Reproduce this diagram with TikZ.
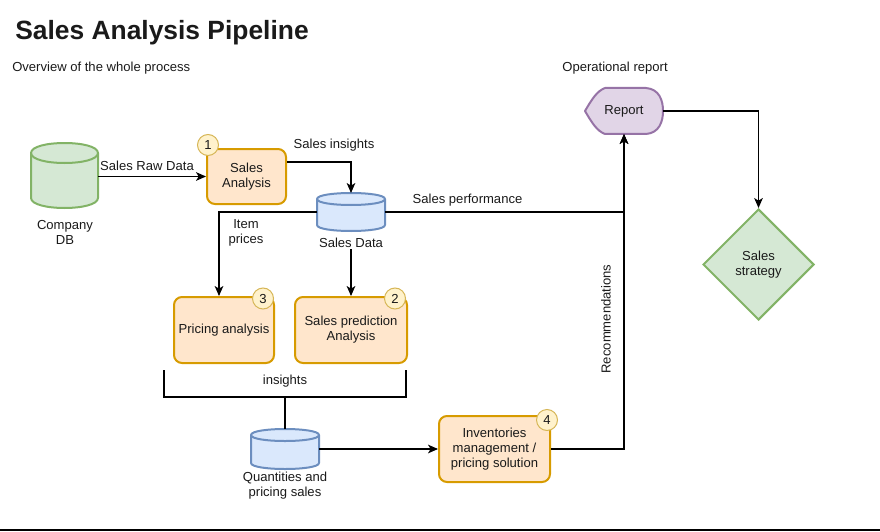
\documentclass[tikz,border=0pt]{standalone}
\usepackage{fontspec}
\setmainfont{Liberation Sans}
\usetikzlibrary{arrows.meta,shapes.geometric}
\definecolor{ofill}{HTML}{FFE6CC}
\definecolor{ostroke}{HTML}{D79B00}
\definecolor{gfill}{HTML}{D5E8D4}
\definecolor{gstroke}{HTML}{82B366}
\definecolor{bfill}{HTML}{DAE8FC}
\definecolor{bstroke}{HTML}{6C8EBF}
\definecolor{pfill}{HTML}{E1D5E7}
\definecolor{pstroke}{HTML}{9673A6}
\definecolor{yfill}{HTML}{FFF2CC}
\definecolor{ystroke}{HTML}{D6B656}
\definecolor{txt}{HTML}{1A1A1A}
% #1 left, #2 top, #3 right, #4 bottom, #5 ellipse half height, #6 fill, #7 stroke
\newcommand\mycyl[7]{%
  \draw[fill=#6, draw=#7, line width=1.5pt, line join=round]
    (#1,{#2+#5}) -- (#1,{#4-#5})
    .. controls (#1,{#4+#5/3}) and (#3,{#4+#5/3}) .. (#3,{#4-#5})
    -- (#3,{#2+#5})
    .. controls (#3,{#2-#5/3}) and (#1,{#2-#5/3}) .. (#1,{#2+#5}) -- cycle;
  \draw[draw=#7, line width=1.5pt]
    (#1,{#2+#5}) .. controls (#1,{#2+7*#5/3}) and (#3,{#2+7*#5/3}) .. (#3,{#2+#5});
}
\begin{document}
\begin{tikzpicture}[x=0.75pt,y=-0.75pt,
  every node/.style={font=\fontsize{9.8}{11.2}\selectfont, text=txt},
  proc/.style={draw=ostroke, fill=ofill, line width=1.5pt, rounded corners=6pt,
    align=center, inner sep=2pt},
  badge/.style={circle, draw=ystroke, fill=yfill, line width=0.75pt,
    minimum size=15.75pt, inner sep=0pt},
  lbl/.style={align=center, inner sep=1pt},
  arr/.style={-{Stealth[length=7.5pt,width=6.5pt,inset=2pt]}, line width=0.8pt},
  holder/.style={draw=none, inner sep=0pt, outer sep=0pt},
  bracket/.style={line width=1.5pt}
]
\useasboundingbox (0,0) rectangle (880,531);

% titles
\node[anchor=base west, font=\bfseries\fontsize{19.8}{24}\selectfont, inner sep=0pt] (title) at (15,40) {Sales Analysis Pipeline};
\node[anchor=base west, inner sep=0pt] (subtitle) at (12,72) {Overview of the whole process};
\node[anchor=base, inner sep=0pt] (oplabel) at (615,72) {Operational report};

% Company DB
\mycyl{31}{143}{98}{208}{10}{gfill}{gstroke}
\node[holder, minimum width=50.25pt, minimum height=48.75pt] (db) at (64.5,175.5) {};
\node[lbl] (dblabel) at (65,232) {Company\\DB};

% Sales Data
\mycyl{317}{193}{385}{231}{6}{bfill}{bstroke}
\node[holder, minimum width=51pt, minimum height=28.5pt] (sd) at (351,212) {};
\node[lbl] (sdlabel) at (351,243) {Sales Data};

% Quantities
\mycyl{251}{429}{319}{469}{6}{bfill}{bstroke}
\node[holder, minimum width=51pt, minimum height=30pt] (qp) at (285,449) {};
\node[lbl] (qplabel) at (285,485.5) {Quantities and\\pricing sales};

% process boxes
\node[proc, minimum width=59.25pt, minimum height=41.25pt] (sa) at (246.5,176.5) {Sales\\Analysis};
\node[proc, minimum width=75pt, minimum height=49.5pt] (pa) at (224,330) {Pricing analysis};
\node[proc, minimum width=84pt, minimum height=49.5pt] (sp) at (351,330) {Sales prediction\\Analysis};
\node[proc, minimum width=83.25pt, minimum height=49.5pt] (inv) at (494.5,449) {Inventories\\management /\\pricing solution};

% badges
\node[badge] (b1) at (208,145) {1};
\node[badge] (b3) at (263,298.5) {3};
\node[badge] (b2) at (395,298.5) {2};
\node[badge] (b4) at (547,420) {4};

% Report (display shape)
\draw[fill=pfill, draw=pstroke, line width=1.5pt, line join=round]
  (585,111) .. controls (592,99) and (597,91) .. (605,88)
  -- (646,88) .. controls (659,89) and (663,100) .. (663,111)
  .. controls (663,122) and (659,133) .. (646,134)
  -- (605,134) .. controls (597,131) and (592,123) .. (585,111) -- cycle;
\node[holder, minimum width=58.5pt, minimum height=34.5pt] (rep) at (624,111) {Report};

% Sales strategy
\node[diamond, draw=gstroke, fill=gfill, line width=1.5pt, minimum width=83.25pt,
  minimum height=83.25pt, inner sep=0pt, align=center] (ss) at (758.5,264.5) {Sales\\strategy};

% connectors
\draw[arr] (db.east |- sa.west) -- (sa.west);
\node[lbl, anchor=base] (rawlbl) at (147,171) {Sales Raw Data};

\draw[arr] (sa.east |- 0,162) -| (sd.north);
\node[lbl] (inslbl) at (334,145) {Sales insights};

\draw[arr] (sd.west) -| (219,0 |- pa.north);
\node[lbl] (itemlbl) at (246,232.5) {Item\\prices};

\draw[arr] (sdlabel.south) -- (sp.north);

\draw[arr] (sd.east) -| (rep.south);
\node[lbl] (perflbl) at (467.5,200) {Sales performance};

\draw[arr] (inv.east) -| (rep.south);
\node[lbl, rotate=90] (reclbl) at (606,319) {Recommendations};

\draw[arr] (rep.east) -| (ss.north);

\draw[arr] (qp.east) -- (inv.west);

% bracket
\coordinate (brl) at (164,370);
\coordinate (brr) at (406,370);
\coordinate (brm) at (285,397);
\draw[bracket] (brl) -- (164,397) -- (406,397) -- (brr);
\draw[bracket] (brm) -- (qp.north);
\node[lbl] (inslbl2) at (285,381) {insights};

% bottom rule
\draw[line width=1.5pt] (0,529.5) -- (880,529.5);
\end{tikzpicture}
\end{document}
